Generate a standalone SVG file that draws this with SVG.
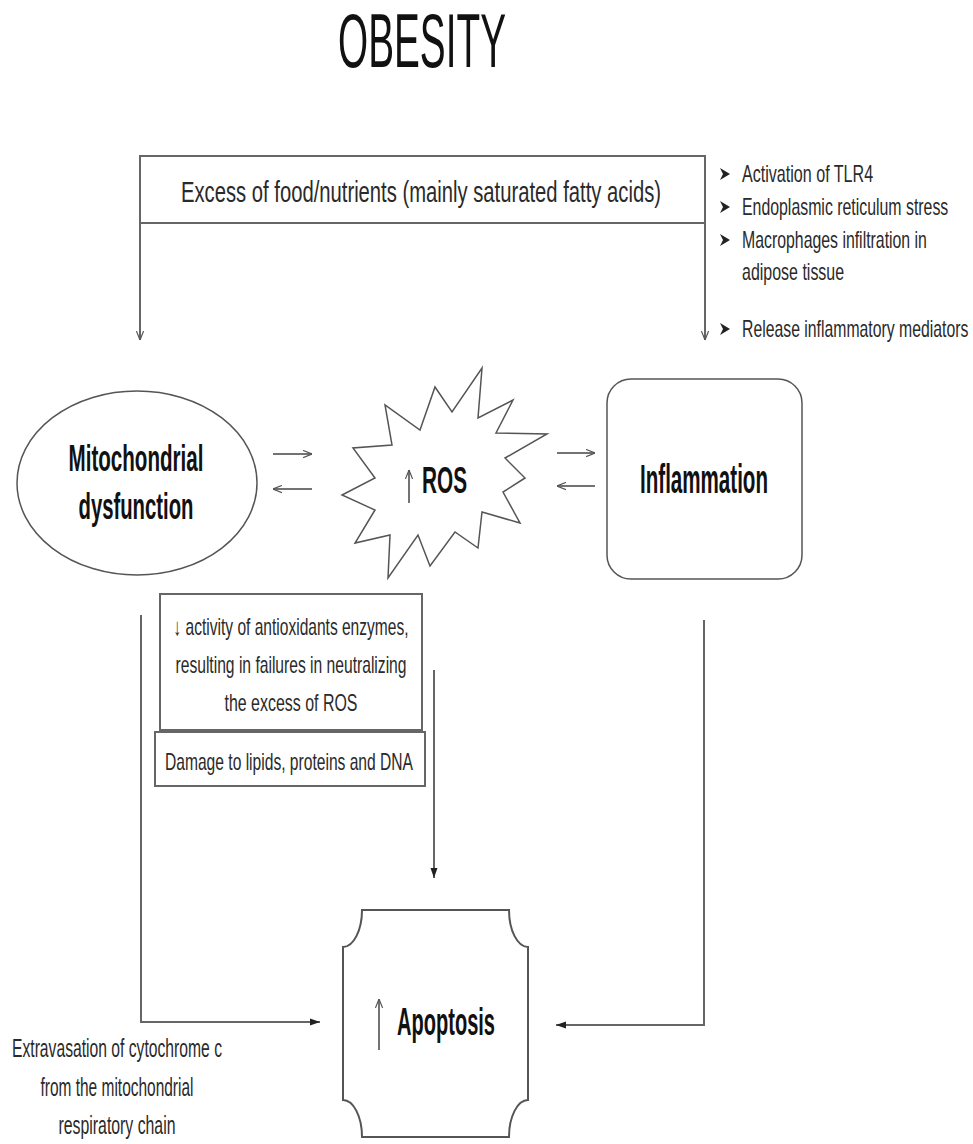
<svg xmlns="http://www.w3.org/2000/svg" width="973" height="1144" viewBox="0 0 973 1144">
<style>
.t{font-family:'Liberation Sans Narrow','Liberation Sans',Arial,sans-serif;fill:#2a2a2a}
.b{font-family:'Liberation Sans Narrow','Liberation Sans',Arial,sans-serif;font-weight:bold;fill:#111}
.box{fill:#fff;stroke:#666;stroke-width:2}
.ln{fill:none;stroke:#666;stroke-width:2}
.thin{fill:none;stroke:#444;stroke-width:1.5}
.bul{fill:#222}
</style>
<defs>
<marker id="open" viewBox="0 0 10 10" refX="10" refY="5" markerWidth="9" markerHeight="9" markerUnits="userSpaceOnUse" orient="auto"><path d="M0,1 L10,5 L0,9" fill="none" stroke="#555" stroke-width="1.3"/></marker>
<marker id="solid" viewBox="0 0 10 10" refX="10" refY="5" markerWidth="10" markerHeight="10" markerUnits="userSpaceOnUse" orient="auto"><path d="M0,1.5 L10,5 L0,8.5 Z" fill="#222"/></marker>
<path id="bullet" d="M0,-6 L10,0 L0,6 L3,0 Z"/>
</defs>
<rect width="973" height="1144" fill="#fff"/>

<g id="title"><text class="t" x="422" y="67" text-anchor="middle" font-size="76" textLength="168" lengthAdjust="spacingAndGlyphs" style="fill:#111">OBESITY</text></g>

<g id="excess">
<rect class="box" x="140" y="156" width="565" height="67"/>
<text class="t" x="421" y="202" text-anchor="middle" font-size="29" textLength="480" lengthAdjust="spacingAndGlyphs">Excess of food/nutrients (mainly saturated fatty acids)</text>
</g>

<g id="inflammation-causes">
<use href="#bullet" class="bul" x="720" y="174"/>
<text class="t" transform="translate(742,182) scale(0.69,1)" font-size="23" textLength="190" lengthAdjust="spacingAndGlyphs">Activation of TLR4</text>
<use href="#bullet" class="bul" x="720" y="207"/>
<text class="t" transform="translate(742,215) scale(0.69,1)" font-size="23" textLength="299" lengthAdjust="spacingAndGlyphs">Endoplasmic reticulum stress</text>
<use href="#bullet" class="bul" x="720" y="240"/>
<text class="t" transform="translate(742,248) scale(0.69,1)" font-size="23" textLength="268" lengthAdjust="spacingAndGlyphs">Macrophages infiltration in</text>
<text class="t" transform="translate(742,280) scale(0.69,1)" font-size="23" textLength="148" lengthAdjust="spacingAndGlyphs">adipose tissue</text>
<use href="#bullet" class="bul" x="720" y="329"/>
<text class="t" transform="translate(742,337) scale(0.69,1)" font-size="23" textLength="328" lengthAdjust="spacingAndGlyphs">Release inflammatory mediators</text>
</g>

<g id="mito">
<ellipse cx="137" cy="483" rx="120" ry="92" fill="#fff" stroke="#555" stroke-width="1.5"/>
<text class="b" x="136" y="471" text-anchor="middle" font-size="37" textLength="135" lengthAdjust="spacingAndGlyphs">Mitochondrial</text>
<text class="b" x="136" y="519" text-anchor="middle" font-size="37" textLength="115" lengthAdjust="spacingAndGlyphs">dysfunction</text>
</g>

<g id="ros">
<polygon points="482,368 478,418 513,400 496,433 547,434 505,458 525,478 503,492 520,523 482,512 478,548 455,532 430,566 418,535 388,578 390,535 355,543 375,510 342,495 375,478 353,448 392,445 385,405 420,430 435,387 452,412" fill="#fff" stroke="#555" stroke-width="1.5" stroke-linejoin="miter"/>
<line class="thin" x1="409" y1="503" x2="409" y2="470" marker-end="url(#open)"/>
<text class="b" x="422" y="493" font-size="37" textLength="45" lengthAdjust="spacingAndGlyphs">ROS</text>
</g>

<g id="inflammation">
<rect x="607" y="379" width="195" height="200" rx="24" fill="#fff" stroke="#555" stroke-width="1.5"/>
<text class="b" x="704" y="493" text-anchor="middle" font-size="40" textLength="128" lengthAdjust="spacingAndGlyphs">Inflammation</text>
</g>

<g id="antioxidants">
<rect class="box" x="160" y="594" width="262" height="136"/>
<text class="t" x="291" y="635" text-anchor="middle" font-size="24" textLength="235" lengthAdjust="spacingAndGlyphs">↓ activity of antioxidants enzymes,</text>
<text class="t" x="291" y="673" text-anchor="middle" font-size="24" textLength="231" lengthAdjust="spacingAndGlyphs">resulting in failures in neutralizing</text>
<text class="t" x="291" y="711" text-anchor="middle" font-size="24" textLength="133" lengthAdjust="spacingAndGlyphs">the excess of ROS</text>
</g>

<g id="damage">
<rect class="box" x="155" y="732" width="270" height="54"/>
<text class="t" x="289" y="770" text-anchor="middle" font-size="24" textLength="248" lengthAdjust="spacingAndGlyphs">Damage to lipids, proteins and DNA</text>
</g>

<g id="apoptosis">
<path d="M362,910 H509 A19,37 0 0 0 528,947 V1100 A19,37 0 0 0 509,1137 H362 A19,37 0 0 0 343,1100 V947 A19,37 0 0 0 362,910 Z" fill="#fff" stroke="#555" stroke-width="2"/>
<line class="thin" x1="379" y1="1050" x2="379" y2="999" marker-end="url(#open)"/>
<text class="b" x="397" y="1035" font-size="38" textLength="98" lengthAdjust="spacingAndGlyphs">Apoptosis</text>
</g>

<g id="cytochrome-label">
<text class="t" x="117" y="1057" text-anchor="middle" font-size="26" textLength="210" lengthAdjust="spacingAndGlyphs">Extravasation of cytochrome c</text>
<text class="t" x="117" y="1096" text-anchor="middle" font-size="26" textLength="153" lengthAdjust="spacingAndGlyphs">from the mitochondrial</text>
<text class="t" x="117" y="1134" text-anchor="middle" font-size="26" textLength="117" lengthAdjust="spacingAndGlyphs">respiratory chain</text>
</g>

<g id="connectors">
<line class="ln" x1="140" y1="223" x2="140" y2="340" stroke-width="1.5" marker-end="url(#open)"/>
<line class="ln" x1="705" y1="223" x2="705" y2="340" stroke-width="1.5" marker-end="url(#open)"/>
<line class="thin" x1="273" y1="454" x2="312" y2="454" marker-end="url(#open)"/>
<line class="thin" x1="312" y1="489" x2="273" y2="489" marker-end="url(#open)"/>
<line class="thin" x1="557" y1="453" x2="595" y2="453" marker-end="url(#open)"/>
<line class="thin" x1="595" y1="486" x2="557" y2="486" marker-end="url(#open)"/>
<path class="ln" d="M141,615 V1022 H320" marker-end="url(#solid)"/>
<path class="ln" d="M434,670 V878" marker-end="url(#solid)"/>
<path class="ln" d="M704,620 V1025 H556" marker-end="url(#solid)"/>
</g>
</svg>
